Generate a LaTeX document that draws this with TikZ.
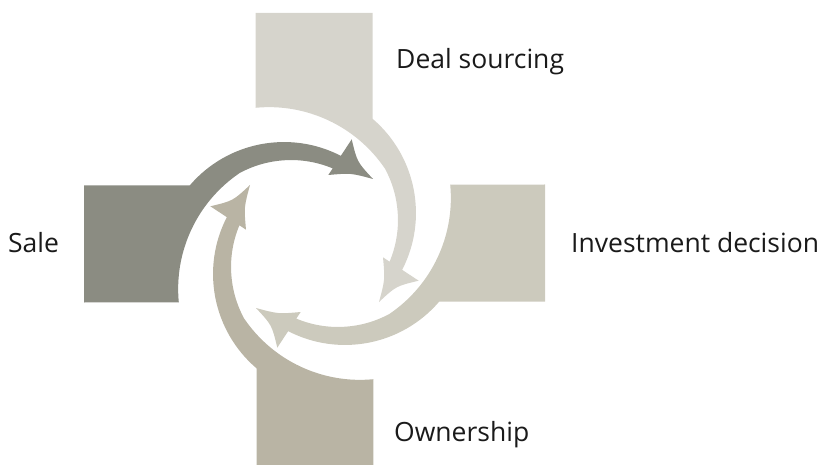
\documentclass[tikz,border=0pt]{standalone}
\usepackage{fontspec}
\setmainfont{Open Sans}
\definecolor{cDark}{RGB}{139,140,130}
\definecolor{cTop}{RGB}{214,212,204}
\definecolor{cRight}{RGB}{204,202,189}
\definecolor{cBottom}{RGB}{185,180,164}
\definecolor{cText}{RGB}{26,26,26}
\newcommand\cyclepiece[1]{%
  \fill[#1] (84,185.5) -- (189.7,185.5)
    arc[start angle=220.5, end angle=297.3, radius=124]
    -- (351.7,139.3) .. controls (357.1,161.9) .. (373,179)
    .. controls (350.7,173) .. (328.3,175)
    -- (332.7,168.4)
    arc[start angle=292.7, end angle=241.6, radius=108]
    arc[start angle=235.9, end angle=174.5, radius=140]
    -- (84,302.5) -- cycle;}
\begin{document}
\begin{tikzpicture}[x=1pt,y=-1pt,
  lbl/.style={font=\fontsize{26.5}{31}\selectfont, text=cText, inner sep=0pt, anchor=base west}]
\useasboundingbox (0,0) rectangle (822,465);
\clip (0,0) rectangle (822,465);
\cyclepiece{cDark}
\begin{scope}[rotate around={-90:(314.5,243.5)}]
  \cyclepiece{cTop}
\end{scope}
\begin{scope}[rotate around={-180:(314.5,243.5)}]
  \cyclepiece{cRight}
\end{scope}
\begin{scope}[rotate around={-270:(314.5,243.5)}]
  \cyclepiece{cBottom}
\end{scope}
\node[lbl] (deal) at (396,68.5) {Deal sourcing};
\node[lbl] (inv) at (571,252.5) {Investment decision};
\node[lbl] (sale) at (8,252.5) {Sale};
\node[lbl] (own) at (394,441) {Ownership};
\end{tikzpicture}
\end{document}
